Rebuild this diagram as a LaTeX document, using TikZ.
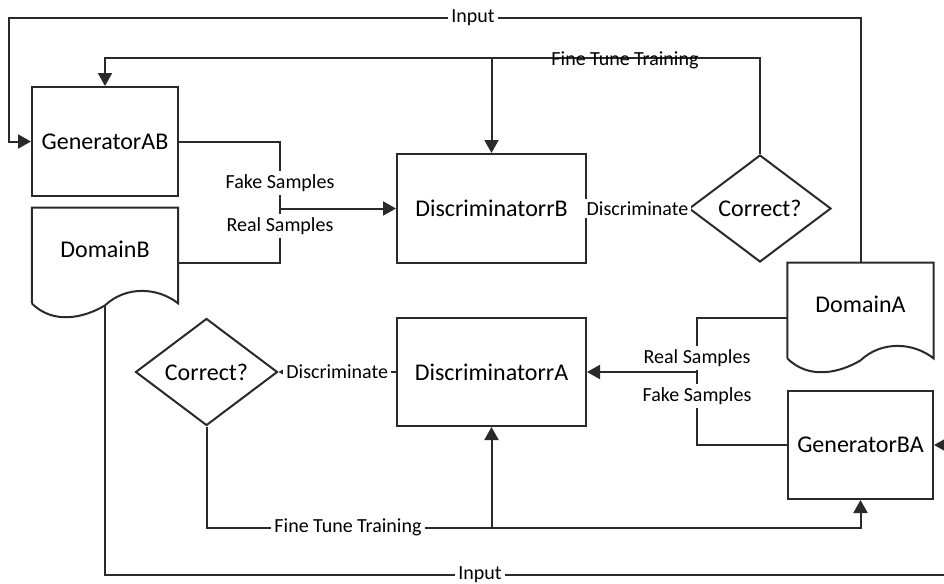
\documentclass[tikz,border=0pt]{standalone}
\usepackage{fontspec}
\setmainfont{Carlito}
\usetikzlibrary{arrows.meta,shapes.geometric,calc}
\definecolor{ink}{HTML}{2A2A2A}
\begin{document}
\begin{tikzpicture}[x=0.5pt,y=-0.5pt,
  line/.style={draw=ink,line width=1pt},
  arr/.style={line,-{Triangle[length=6.5pt,width=7pt]}},
  stepbox/.style={line,fill=white,rectangle,inner sep=0pt,font=\fontsize{12}{14}\selectfont},
  docnode/.style={rectangle,inner sep=0pt,minimum width=72.75pt,minimum height=47.5pt,
    text height=7.7pt,text depth=5.3pt,font=\fontsize{12}{14}\selectfont},
  decision/.style={line,fill=white,diamond,inner sep=0pt,shape aspect=1.35,
    minimum width=71pt,minimum height=53.5pt,font=\fontsize{12}{14}\selectfont},
  lbl/.style={fill=white,inner sep=1.5pt,font=\fontsize{10}{12}\selectfont},
  lblbare/.style={inner sep=1pt,font=\fontsize{10}{12}\selectfont}]
\useasboundingbox (0,0) rectangle (944,584);
\fill[white] (0,0) rectangle (944,584);

% process boxes
\node[stepbox,minimum width=73pt,minimum height=54.5pt] (genAB) at (105,141.5) {GeneratorAB};
\node[stepbox,minimum width=94.5pt,minimum height=54.5pt] (discB) at (491.5,208.5) {DiscriminatorrB};
\node[stepbox,minimum width=94.5pt,minimum height=54pt] (discA) at (491.5,372) {DiscriminatorrA};
\node[stepbox,minimum width=72.5pt,minimum height=54pt] (genBA) at (860.5,445) {GeneratorBA};

% decisions
\node[decision] (dgB) at (760,208.5) {Correct?};
\node[decision] (dgA) at (206.5,372) {Correct?};

% document shapes (straight top and sides, wavy bottom)
\node[docnode] (domB) at (105,255.5) {DomainB};
\node[docnode] (domA) at (860.5,310.5) {DomainA};
\draw[line] (domB.south west) -- (domB.north west) -- (domB.north east) -- (domB.south east)
  .. controls ($(domB.south east)+(-20,-16)$) and ($(domB.south east)+(-52,-18)$) .. ($(domB.south)+(0,2)$)
  coordinate (domBwave)
  .. controls ($(domB.south)+(-20,14)$) and ($(domB.south west)+(22,22)$) .. (domB.south west);
\draw[line] (domA.south west) -- (domA.north west) -- (domA.north east) -- (domA.south east)
  .. controls ($(domA.south east)+(-20,-16)$) and ($(domA.south east)+(-52,-18)$) .. ($(domA.south)+(0,2)$)
  .. controls ($(domA.south)+(-20,14)$) and ($(domA.south west)+(22,22)$) .. (domA.south west);

% junction points
\coordinate (jB) at (280,208.5);
\coordinate (jA) at (697,372);
\coordinate (domBout) at ($(domB.east)+(0,7.5)$);
\coordinate (domAout) at ($(domA.west)+(0,7.5)$);
\coordinate (ftB) at ($(dgB.north)+(0,-96)$);
\coordinate (ftA) at ($(dgA.south)+(0,101)$);
\coordinate (inR) at (956,575);

% samples into DiscriminatorrB
\draw[line] (genAB.east) -| (jB);
\draw[line] (domBout) -| (jB);
\draw[arr] (jB) -- (discB.west);
\node[lbl] (fakeB) at (280,183) {Fake Samples};
\node[lbl] (realB) at (280,226) {Real Samples};

% samples into DiscriminatorrA
\draw[line] (domAout) -| (jA);
\draw[line] (genBA.west) -| (jA);
\draw[arr] (jA) -- (discA.east);
\node[lbl] (realA) at (697,358) {Real Samples};
\node[lbl] (fakeA) at (697,396) {Fake Samples};

% discrimination
\draw[arr] (discB.east) -- (dgB.west) node[midway,lbl] {Discriminate};
\draw[arr] (discA.west) -- (dgA.east) node[midway,lbl] {Discriminate};

% fine tune training feedback (top)
\draw[arr] (dgB.north) -- (ftB) -| (genAB.north);
\draw[arr] (discB.north |- ftB) -- (discB.north);
\node[lblbare] (ftBlabel) at (625,60) {Fine Tune Training};

% fine tune training feedback (bottom)
\draw[arr] (dgA.south) -- (ftA) -| (genBA.south);
\draw[arr] (discA.south |- ftA) -- (discA.south);
\node[lbl] (ftAlabel) at (348,527) {Fine Tune Training};

% input paths
\draw[arr] (domA.north) -- ++(0,-245) -| ($(genAB.west)+(-22,0)$) -- (genAB.west);
\node[lbl] (inTop) at (473,18) {Input};
\draw[arr] (domBwave) -- (domBwave |- inR) -- (inR) -- (inR |- genBA.east) -- (genBA.east);
\node[lbl] (inBot) at (480,575) {Input};
\end{tikzpicture}
\end{document}
